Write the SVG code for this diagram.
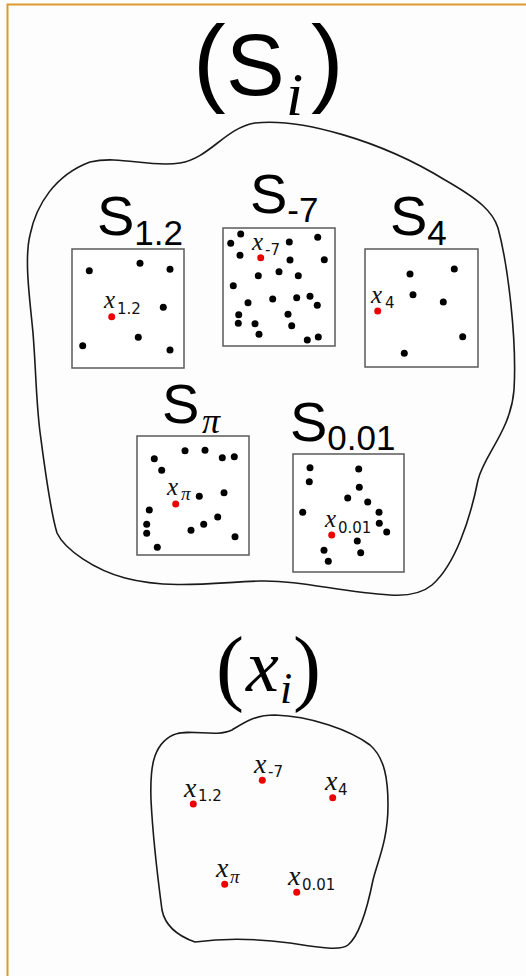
<svg xmlns="http://www.w3.org/2000/svg" width="526" height="976" viewBox="0 0 526 976">
<style>
.blob{fill:none;stroke:#1a1a1a;stroke-width:1.6}
.box{fill:#fff;stroke:#5a5a5a;stroke-width:1.5}
.d{fill:#000}
.r{fill:#ee0000}
.big{font-family:"Liberation Sans",Arial,sans-serif;font-size:56px;fill:#000}
.bsub{font-family:"Liberation Sans",Arial,sans-serif;font-size:35px;fill:#000}
.bpi{font-family:"Liberation Serif","Times New Roman",serif;font-style:italic;font-size:36px;fill:#000}
.xl{font-family:"Liberation Serif","Times New Roman",serif;font-style:italic;font-size:25px;fill:#111}
.xs{font-family:"DejaVu Sans",sans-serif;font-size:15px;fill:#111}
.xpi{font-family:"Liberation Serif","Times New Roman",serif;font-style:italic;font-size:19px;fill:#111}
.xl2{font-family:"Liberation Serif","Times New Roman",serif;font-style:italic;font-size:28px;fill:#111}
</style>
<rect x="0" y="0" width="526" height="976" fill="#fdfdfd"/>
<path d="M7.5,976 V4.5 H526" fill="none" stroke="#dc9a2c" stroke-width="2"/>

<g id="title-S">
<text x="193" y="94" font-family="Liberation Sans,Arial,sans-serif" font-size="98">(</text>
<text x="226" y="95" font-family="Liberation Sans,Arial,sans-serif" font-size="88">S</text>
<text x="286" y="115" font-family="Liberation Serif,Times New Roman,serif" font-style="italic" font-size="62">i</text>
<text x="311" y="94" font-family="Liberation Sans,Arial,sans-serif" font-size="98">)</text>
</g>

<g id="set-blob">
<path class="blob" d="M90,162 C120,155 150,168 180,163 C210,158 225,128 255,123 C300,118 380,140 445,180 C480,200 493,212 498,228 C508,265 517,340 514,390 C511,430 484,455 478,480 C470,520 455,565 432,585 C420,595 405,596 390,595 C340,592 300,580 260,581 C220,582 170,590 125,578 C95,570 65,550 57,533 C50,510 45,470 40,432 C36,400 36,370 33,333 C30,300 24,260 30,235 C36,205 55,175 90,162 Z"/>
</g>

<g id="S1_2">
<text class="big" x="97" y="235">S<tspan class="bsub" dy="10">1.2</tspan></text>
<rect class="box" x="72" y="249" width="112" height="119"/>
<circle class="d" cx="89.3" cy="270.7" r="3.5"/>
<circle class="d" cx="140" cy="263.3" r="3.5"/>
<circle class="d" cx="170" cy="269.3" r="3.5"/>
<circle class="d" cx="163.3" cy="307.3" r="3.5"/>
<circle class="d" cx="138.3" cy="337.3" r="3.5"/>
<circle class="d" cx="82.7" cy="345.7" r="3.5"/>
<circle class="d" cx="170" cy="350" r="3.5"/>
<text class="xl" x="104" y="308">x</text><text class="xs" x="117" y="314">1.2</text>
<circle class="r" cx="111.7" cy="316.7" r="3.5"/>
</g>

<g id="S_m7">
<text class="big" x="250" y="213">S<tspan class="bsub" dy="9">-7</tspan></text>
<rect class="box" x="223" y="228" width="112" height="118"/>
<circle class="d" cx="240.7" cy="234" r="3.5"/>
<circle class="d" cx="230.7" cy="243.3" r="3.5"/>
<circle class="d" cx="289.3" cy="242" r="3.5"/>
<circle class="d" cx="317.7" cy="237.3" r="3.5"/>
<circle class="d" cx="240" cy="255.3" r="3.5"/>
<circle class="d" cx="290" cy="260" r="3.5"/>
<circle class="d" cx="324.3" cy="259.7" r="3.5"/>
<circle class="d" cx="258.3" cy="275.7" r="3.5"/>
<circle class="d" cx="279" cy="271.7" r="3.5"/>
<circle class="d" cx="298.3" cy="275.7" r="3.5"/>
<circle class="d" cx="233.3" cy="285.7" r="3.5"/>
<circle class="d" cx="248" cy="302.7" r="3.5"/>
<circle class="d" cx="272.7" cy="299" r="3.5"/>
<circle class="d" cx="296.7" cy="297.7" r="3.5"/>
<circle class="d" cx="310" cy="296.3" r="3.5"/>
<circle class="d" cx="317.3" cy="305.3" r="3.5"/>
<circle class="d" cx="238.7" cy="314.7" r="3.5"/>
<circle class="d" cx="288" cy="314.3" r="3.5"/>
<circle class="d" cx="238.3" cy="323.3" r="3.5"/>
<circle class="d" cx="255" cy="323.7" r="3.5"/>
<circle class="d" cx="291.7" cy="325.7" r="3.5"/>
<circle class="d" cx="259" cy="334.3" r="3.5"/>
<circle class="d" cx="307.3" cy="340" r="3.5"/>
<circle class="d" cx="318.3" cy="337" r="3.5"/>
<text class="xl" x="252" y="250">x</text><text class="xs" x="265" y="255">-7</text>
<circle class="r" cx="260.7" cy="257.7" r="3.5"/>
</g>

<g id="S4">
<text class="big" x="390" y="235">S<tspan class="bsub" dy="10">4</tspan></text>
<rect class="box" x="365" y="249" width="113" height="118"/>
<circle class="d" cx="410" cy="274" r="3.5"/>
<circle class="d" cx="454.3" cy="269" r="3.5"/>
<circle class="d" cx="413" cy="294.7" r="3.5"/>
<circle class="d" cx="443.3" cy="302" r="3.5"/>
<circle class="d" cx="462.7" cy="336.7" r="3.5"/>
<circle class="d" cx="404.3" cy="353.3" r="3.5"/>
<text class="xl" x="371" y="303">x</text><text class="xs" x="385" y="308">4</text>
<circle class="r" cx="377.7" cy="311" r="3.5"/>
</g>

<g id="S_pi">
<text class="big" x="162" y="423">S</text><text class="bpi" x="202" y="433">π</text>
<rect class="box" x="137" y="436" width="112" height="119"/>
<circle class="d" cx="154.3" cy="458.7" r="3.5"/>
<circle class="d" cx="185" cy="450.7" r="3.5"/>
<circle class="d" cx="205" cy="450.3" r="3.5"/>
<circle class="d" cx="222.3" cy="457.7" r="3.5"/>
<circle class="d" cx="234.3" cy="456.7" r="3.5"/>
<circle class="d" cx="161.7" cy="470.3" r="3.5"/>
<circle class="d" cx="199.3" cy="496.3" r="3.5"/>
<circle class="d" cx="224" cy="492.7" r="3.5"/>
<circle class="d" cx="149.3" cy="510" r="3.5"/>
<circle class="d" cx="217.7" cy="517" r="3.5"/>
<circle class="d" cx="203.7" cy="524.3" r="3.5"/>
<circle class="d" cx="146.7" cy="524.3" r="3.5"/>
<circle class="d" cx="191" cy="530.3" r="3.5"/>
<circle class="d" cx="146.7" cy="533.3" r="3.5"/>
<circle class="d" cx="235" cy="536.7" r="3.5"/>
<circle class="d" cx="157.3" cy="547.3" r="3.5"/>
<text class="xl" x="167" y="495">x</text><text class="xpi" x="181" y="500">π</text>
<circle class="r" cx="175.7" cy="504" r="3.5"/>
</g>

<g id="S0_01">
<text class="big" x="290" y="441">S<tspan class="bsub" dy="9">0.01</tspan></text>
<rect class="box" x="293" y="454" width="111" height="118"/>
<circle class="d" cx="310" cy="467.7" r="3.5"/>
<circle class="d" cx="358.7" cy="469" r="3.5"/>
<circle class="d" cx="309.3" cy="481.7" r="3.5"/>
<circle class="d" cx="359.3" cy="487.3" r="3.5"/>
<circle class="d" cx="347.7" cy="498" r="3.5"/>
<circle class="d" cx="367.7" cy="502" r="3.5"/>
<circle class="d" cx="302.7" cy="512.3" r="3.5"/>
<circle class="d" cx="379" cy="512.3" r="3.5"/>
<circle class="d" cx="379.3" cy="523.3" r="3.5"/>
<circle class="d" cx="386.7" cy="532" r="3.5"/>
<circle class="d" cx="357.3" cy="541" r="3.5"/>
<circle class="d" cx="324" cy="550.3" r="3.5"/>
<circle class="d" cx="360.7" cy="552.7" r="3.5"/>
<circle class="d" cx="328.3" cy="561.3" r="3.5"/>
<text class="xl" x="325" y="527">x</text><text class="xs" x="338" y="533">0.01</text>
<circle class="r" cx="331.7" cy="535" r="3.5"/>
</g>

<g id="title-x">
<text x="216" y="695" font-family="Liberation Serif,Times New Roman,serif" font-size="84">(</text>
<text x="246" y="691" font-family="Liberation Serif,Times New Roman,serif" font-style="italic" font-size="74">x</text>
<text x="280" y="703" font-family="Liberation Serif,Times New Roman,serif" font-style="italic" font-size="44">i</text>
<text x="293" y="695" font-family="Liberation Serif,Times New Roman,serif" font-size="84">)</text>
</g>

<g id="x-blob">
<path class="blob" d="M173,735 C190,728 215,738 232,730 C245,722 255,715 275,715 C310,716 350,730 370,745 C385,758 388,780 388,805 C388,840 378,860 373,880 C368,905 360,935 348,945 C340,952 310,946 290,943 C260,939 225,938 195,942 C175,935 165,925 162,910 C158,880 153,840 151,800 C150,770 152,745 173,735 Z"/>
</g>

<g id="x1_2">
<text class="xl2" x="184" y="797">x</text><text class="xs" x="198" y="801">1.2</text>
<circle class="r" cx="193.3" cy="804" r="3.5"/>
</g>
<g id="x_m7">
<text class="xl2" x="254" y="773">x</text><text class="xs" x="268" y="777">-7</text>
<circle class="r" cx="262.3" cy="780.3" r="3.5"/>
</g>
<g id="x4">
<text class="xl2" x="325" y="790">x</text><text class="xs" x="338" y="795">4</text>
<circle class="r" cx="332.7" cy="797.7" r="3.5"/>
</g>
<g id="x_pi">
<text class="xl2" x="216" y="877">x</text><text class="xpi" x="230" y="883">π</text>
<circle class="r" cx="224.7" cy="884.3" r="3.5"/>
</g>
<g id="x0_01">
<text class="xl2" x="288" y="885">x</text><text class="xs" x="302" y="890">0.01</text>
<circle class="r" cx="296.7" cy="892.3" r="3.5"/>
</g>
<g id="connectors"/>
</svg>
